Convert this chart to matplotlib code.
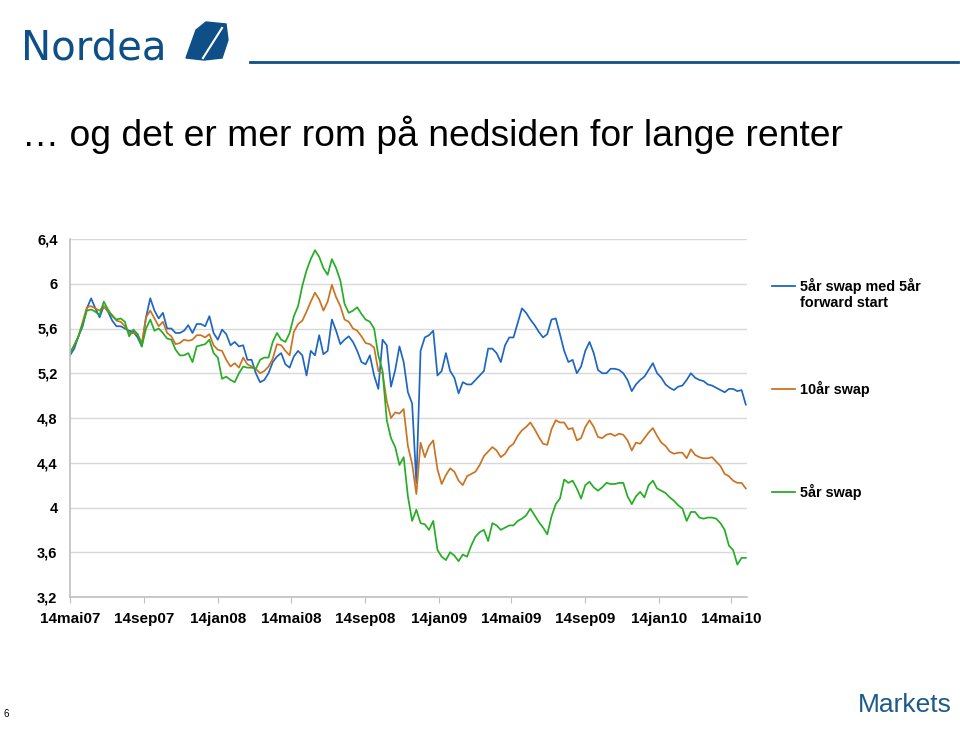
import matplotlib
matplotlib.use("Agg")
import matplotlib.pyplot as plt
import matplotlib.dates as mdates
from matplotlib.patches import Polygon
from matplotlib.ticker import FuncFormatter
import pandas as pd

plt.rcParams['font.family'] = ['Liberation Sans', 'DejaVu Sans']

# ukentlige observasjoner fra 14. mai 2007
start_date = '2007-05-14'

fwd_5y5y = [
    5.36, 5.42, 5.53, 5.62, 5.78, 5.87, 5.78, 5.70, 5.80, 5.75, 5.67, 5.62, 5.62, 5.60, 5.58, 5.57,
    5.52, 5.44, 5.70, 5.87, 5.76, 5.69, 5.74, 5.60, 5.60, 5.56, 5.56, 5.58, 5.63, 5.56, 5.64, 5.64,
    5.62, 5.71, 5.56, 5.50, 5.59, 5.55, 5.45, 5.48, 5.44, 5.45, 5.32, 5.32, 5.20, 5.12, 5.14, 5.20,
    5.30, 5.35, 5.38, 5.28, 5.25, 5.35, 5.40, 5.36, 5.18, 5.40, 5.36, 5.54, 5.37, 5.40, 5.68, 5.58,
    5.46, 5.50, 5.53, 5.48, 5.40, 5.30, 5.28, 5.36, 5.18, 5.06, 5.50, 5.45, 5.08, 5.23, 5.44, 5.30,
    5.03, 4.93, 4.22, 5.40, 5.52, 5.54, 5.58, 5.18, 5.22, 5.38, 5.22, 5.16, 5.02, 5.12, 5.10, 5.10,
    5.14, 5.18, 5.22, 5.42, 5.42, 5.38, 5.30, 5.45, 5.52, 5.52, 5.65, 5.78, 5.74, 5.68, 5.63, 5.57,
    5.52, 5.55, 5.68, 5.69, 5.55, 5.40, 5.30, 5.32, 5.20, 5.26, 5.40, 5.48, 5.38, 5.23, 5.20, 5.20,
    5.24, 5.24, 5.23, 5.20, 5.14, 5.04, 5.10, 5.14, 5.17, 5.23, 5.29, 5.20, 5.16, 5.10, 5.07, 5.05,
    5.08, 5.09, 5.14, 5.20, 5.16, 5.14, 5.13, 5.10, 5.09, 5.07, 5.05, 5.03, 5.06, 5.06, 5.04, 5.05,
    4.92,
]

swap_10y = [
    5.38, 5.45, 5.53, 5.66, 5.79, 5.80, 5.78, 5.76, 5.80, 5.75, 5.72, 5.67, 5.66, 5.62, 5.56, 5.56,
    5.55, 5.47, 5.70, 5.76, 5.69, 5.62, 5.66, 5.56, 5.53, 5.46, 5.47, 5.50, 5.49, 5.50, 5.54, 5.54,
    5.52, 5.55, 5.45, 5.41, 5.40, 5.32, 5.26, 5.29, 5.25, 5.34, 5.28, 5.26, 5.24, 5.20, 5.22, 5.26,
    5.33, 5.46, 5.45, 5.40, 5.36, 5.57, 5.64, 5.67, 5.75, 5.84, 5.92, 5.86, 5.76, 5.84, 5.99, 5.88,
    5.80, 5.68, 5.66, 5.60, 5.58, 5.53, 5.47, 5.46, 5.43, 5.22, 5.20, 4.95, 4.80, 4.85, 4.84, 4.88,
    4.55, 4.39, 4.12, 4.58, 4.45, 4.55, 4.60, 4.34, 4.21, 4.29, 4.35, 4.32, 4.24, 4.20, 4.28, 4.30,
    4.32, 4.38, 4.46, 4.50, 4.54, 4.51, 4.45, 4.48, 4.54, 4.57, 4.64, 4.69, 4.72, 4.76, 4.70, 4.63,
    4.57, 4.56, 4.70, 4.78, 4.76, 4.76, 4.70, 4.71, 4.60, 4.62, 4.72, 4.78, 4.72, 4.63, 4.62, 4.65,
    4.66, 4.64, 4.66, 4.65, 4.60, 4.51, 4.58, 4.57, 4.62, 4.67, 4.71, 4.64, 4.58, 4.55, 4.50, 4.48,
    4.49, 4.49, 4.44, 4.52, 4.47, 4.45, 4.44, 4.44, 4.45, 4.41, 4.37, 4.30, 4.28, 4.24, 4.22, 4.22,
    4.17,
]

swap_5y = [
    5.38, 5.45, 5.53, 5.64, 5.76, 5.77, 5.75, 5.72, 5.84, 5.77, 5.71, 5.68, 5.69, 5.66, 5.53, 5.59,
    5.55, 5.44, 5.60, 5.68, 5.58, 5.60, 5.56, 5.51, 5.50, 5.41, 5.36, 5.36, 5.38, 5.30, 5.44, 5.45,
    5.46, 5.50, 5.38, 5.34, 5.15, 5.17, 5.14, 5.12, 5.20, 5.26, 5.25, 5.25, 5.24, 5.32, 5.34, 5.34,
    5.48, 5.56, 5.50, 5.48, 5.56, 5.71, 5.80, 5.98, 6.12, 6.22, 6.30, 6.24, 6.14, 6.08, 6.22, 6.14,
    6.03, 5.82, 5.74, 5.76, 5.79, 5.73, 5.68, 5.66, 5.60, 5.36, 5.22, 4.78, 4.62, 4.54, 4.38, 4.45,
    4.10, 3.88, 3.98, 3.86, 3.85, 3.80, 3.88, 3.62, 3.56, 3.53, 3.60, 3.57, 3.52, 3.58, 3.56, 3.66,
    3.74, 3.78, 3.80, 3.70, 3.86, 3.84, 3.80, 3.82, 3.84, 3.84, 3.88, 3.90, 3.93, 3.99, 3.93, 3.87,
    3.82, 3.76, 3.92, 4.03, 4.08, 4.25, 4.22, 4.24, 4.17, 4.08, 4.20, 4.23, 4.18, 4.15, 4.18, 4.22,
    4.21, 4.21, 4.22, 4.22, 4.10, 4.03, 4.10, 4.14, 4.09, 4.20, 4.24, 4.17, 4.15, 4.13, 4.09, 4.06,
    4.02, 3.99, 3.88, 3.96, 3.96, 3.91, 3.90, 3.91, 3.91, 3.90, 3.86, 3.80, 3.66, 3.62, 3.49, 3.55,
    3.55,
]

series_names = ['5år swap med 5år\nforward start', '10år swap', '5år swap']
series_colors = ['#1f66c2', '#cc7322', '#25ad25']

tick_dates = ['2007-05-14', '2007-09-14', '2008-01-14', '2008-05-14', '2008-09-14',
              '2009-01-14', '2009-05-14', '2009-09-14', '2010-01-14', '2010-05-14']
maaned = {1: 'jan', 5: 'mai', 9: 'sep'}
y_ticks = [3.2, 3.6, 4.0, 4.4, 4.8, 5.2, 5.6, 6.0, 6.4]

dates = pd.date_range(start_date, periods=len(swap_5y), freq='7D')

fig = plt.figure(figsize=(9.6, 7.44), dpi=100)
fig.patch.set_facecolor('white')

# bakgrunn / rammeverk for lysbildet i pikselkoordinater
bg = fig.add_axes([0, 0, 1, 1], zorder=0)
bg.set_xlim(0, 960)
bg.set_ylim(744, 0)
bg.axis('off')

bg.text(21, 48, 'Nordea', fontsize=29, color='#0d4f86', va='center', ha='left',
        family='DejaVu Sans')
sail = Polygon([[186, 58], [196, 30], [206, 22], [226, 24], [228, 40], [222, 58], [204, 60]],
               closed=True, color='#0d4f86')
bg.add_patch(sail)
bg.plot([203, 222], [58, 28], color='white', lw=1.5)
bg.plot([250, 958], [62, 62], color='#0d4f86', lw=2)

bg.text(22, 135, '… og det er mer rom på nedsiden for lange renter',
        fontsize=26.8, color='black', va='center', ha='left')

bg.text(4, 714, '6', fontsize=7, va='center', ha='left')
bg.text(952, 705, 'Markets', fontsize=19, color='#1d5a8c', va='center', ha='right')

# forklaring til høyre
legend_y = [286, 389, 492]
for name, col, ly in zip(series_names, series_colors, legend_y):
    bg.plot([772, 795], [ly, ly], color=col, lw=1.3)
    bg.text(800, ly - 8, name, fontsize=10.4, fontweight='bold', va='top', ha='left',
            linespacing=1.15)

# selve grafen
ax = fig.add_axes([70 / 960, 1 - 597 / 744, (747 - 70) / 960, (597 - 239) / 744], zorder=1)
ax.patch.set_alpha(0)
for vals, col in zip([fwd_5y5y, swap_10y, swap_5y], series_colors):
    ax.plot(dates, vals, color=col, lw=1.25)

ax.set_ylim(3.2, 6.4)
ax.set_xlim(pd.Timestamp(start_date), pd.Timestamp('2010-06-09'))
ax.set_yticks(y_ticks)
ax.yaxis.set_major_formatter(FuncFormatter(lambda v, p: f'{v:g}'.replace('.', ',')))
ax.set_xticks(pd.to_datetime(tick_dates))
ax.xaxis.set_major_formatter(FuncFormatter(
    lambda v, p: '14' + maaned[mdates.num2date(v).month] + mdates.num2date(v).strftime('%y')))

ax.grid(axis='y', color='#d9d9d9', lw=1)
ax.set_axisbelow(True)
for s in ['top', 'right']:
    ax.spines[s].set_visible(False)
for s in ['left', 'bottom']:
    ax.spines[s].set_color('#bfbfbf')
    ax.spines[s].set_linewidth(1.2)
ax.tick_params(axis='y', length=0, pad=9, labelsize=10.5)
ax.tick_params(axis='x', length=4, color='#bfbfbf', pad=7, labelsize=11)
for lab in ax.get_xticklabels() + ax.get_yticklabels():
    lab.set_fontweight('bold')

fig.savefig('out.png', dpi=100)
